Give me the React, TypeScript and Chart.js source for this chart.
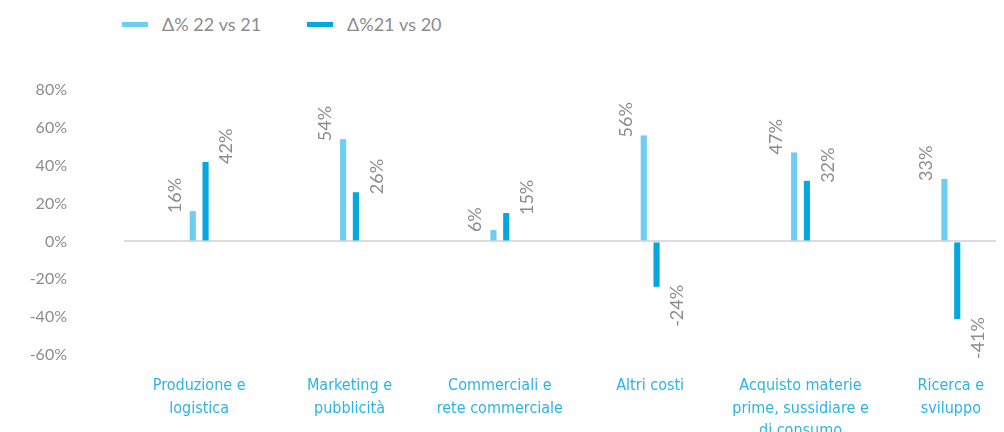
import React, { useEffect, useRef } from "react";
import { Chart, registerables } from "chart.js";

Chart.register(...registerables);

const categories: string[][] = [
  ["Produzione e", "logistica"],
  ["Marketing e", "pubblicità"],
  ["Commerciali e", "rete commerciale"],
  ["Altri costi"],
  ["Acquisto materie", "prime, sussidiare e", "di consumo"],
  ["Ricerca e", "sviluppo"],
];
const series1Name = "Δ% 22 vs 21";
const series2Name = "Δ%21 vs 20";
const series1: number[] = [16, 54, 6, 56, 47, 33];
const series2: number[] = [42, 26, 15, -24, 32, -41];
const yTicks: number[] = [80, 60, 40, 20, 0, -20, -40, -60];

const LIGHT = "#6dcdf3";
const DARK = "#06a7e0";
const GRAY = "#8c8c8c";
const LABEL_BLUE = "#2cb3e6";
const NUM_FONT = "Lato, 'Open Sans', sans-serif";
const CAT_FONT = "'Liberation Sans Narrow', 'DejaVu Sans Condensed', 'Roboto', sans-serif";

const rotatedLabels = {
  id: "rotatedLabels",
  afterDatasetsDraw(chart: any) {
    const ctx = chart.ctx;
    chart.data.datasets.forEach((ds: any, di: number) => {
      const meta = chart.getDatasetMeta(di);
      meta.data.forEach((bar: any, i: number) => {
        const v = ds.data[i] as number;
        const dx = di === 0 ? -18 : 21;
        ctx.save();
        ctx.translate(bar.x + dx, bar.y + (v >= 0 ? 2 : -2));
        ctx.rotate(-Math.PI / 2);
        ctx.font = "400 18px " + NUM_FONT;
        ctx.fillStyle = GRAY;
        ctx.textAlign = v >= 0 ? "left" : "right";
        ctx.textBaseline = "middle";
        ctx.fillText(v + "%", 0, 0);
        ctx.restore();
      });
    });
  },
};

export default function App() {
  const ref = useRef<HTMLCanvasElement | null>(null);
  useEffect(() => {
    if (!ref.current) return;
    const chart = new Chart(ref.current, {
      type: "bar",
      data: {
        labels: categories,
        datasets: [
          {
            label: series1Name,
            data: series1,
            backgroundColor: LIGHT,
            categoryPercentage: 0.17,
            barPercentage: 0.48,
          },
          {
            label: series2Name,
            data: series2,
            backgroundColor: DARK,
            categoryPercentage: 0.17,
            barPercentage: 0.48,
          },
        ],
      },
      options: {
        animation: false,
        responsive: true,
        maintainAspectRatio: false,
        layout: { padding: { top: 82, right: 4, left: 0, bottom: 0 } },
        plugins: {
          legend: { display: false },
          tooltip: { enabled: false },
        },
        scales: {
          x: {
            grid: { display: false },
            border: { display: false },
            ticks: {
              color: LABEL_BLUE,
              font: { family: CAT_FONT, size: 16, lineHeight: 1.4 },
              maxRotation: 0,
              autoSkip: false,
              padding: 12,
            },
            afterFit: (s: any) => {
              s.height = 98;
            },
          },
          y: {
            min: -60,
            max: 80,
            afterBuildTicks: (s: any) => {
              s.ticks = yTicks.map((v) => ({ value: v }));
            },
            border: { display: false },
            grid: {
              drawTicks: false,
              lineWidth: 2,
              color: (c: any) => (c.tick && c.tick.value === 0 ? "#dcdcdc" : "rgba(0,0,0,0)"),
            },
            ticks: {
              color: GRAY,
              font: { family: NUM_FONT, size: 16, weight: 400 },
              padding: 57,
              callback: (v: any) => v + "%",
            },
            afterFit: (s: any) => {
              s.width = 116;
            },
          },
        },
      },
      plugins: [rotatedLabels],
    });
    return () => chart.destroy();
  }, []);

  const legendItem = (color: string, text: string, left: number) => (
    <div
      style={{
        position: "absolute",
        left,
        top: 5,
        display: "flex",
        alignItems: "center",
        fontFamily: NUM_FONT,
        fontWeight: 400,
        fontSize: 18,
        color: GRAY,
        whiteSpace: "nowrap",
      }}
    >
      <span style={{ display: "inline-block", width: 26, height: 5, background: color, marginRight: 14 }} />
      <span>{text}</span>
    </div>
  );

  return (
    <div style={{ position: "relative", width: 996, height: 424, overflow: "hidden" }}>
      {legendItem(LIGHT, series1Name, 114)}
      {legendItem(DARK, series2Name, 299)}
      <div style={{ position: "absolute", left: 0, top: 0, width: 1022, height: 445 }}>
        <canvas ref={ref} />
      </div>
    </div>
  );
}
